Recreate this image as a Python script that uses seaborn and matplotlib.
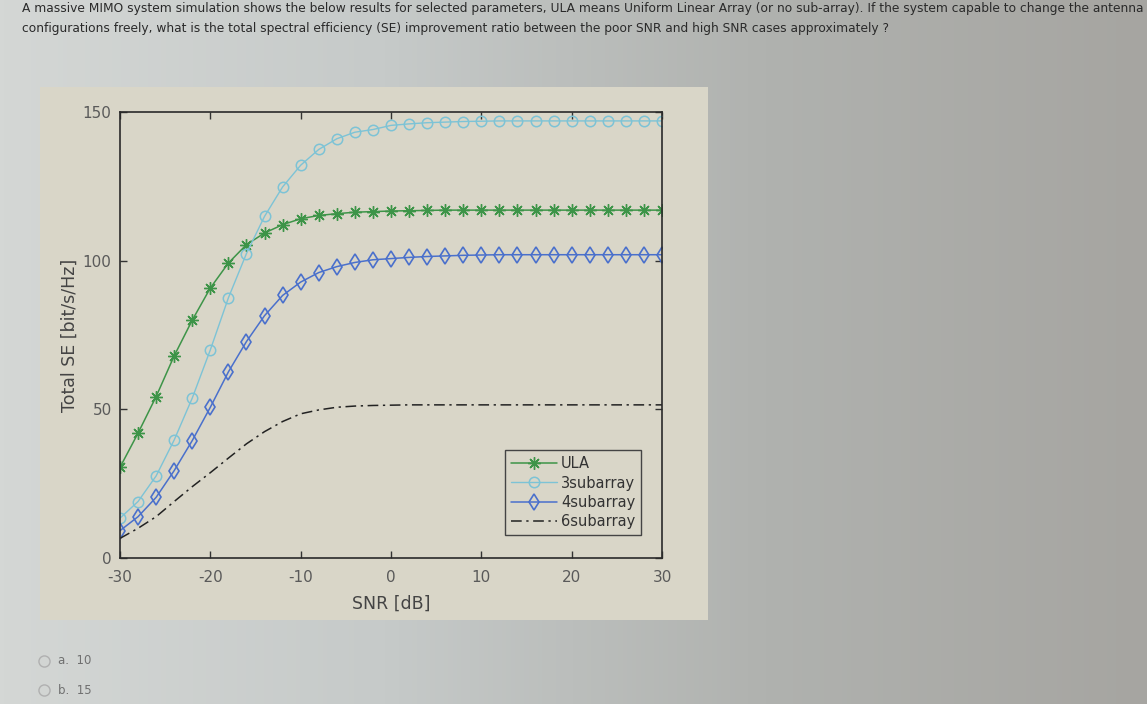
import numpy as np
import pandas as pd
import seaborn as sns
import matplotlib.pyplot as plt
from matplotlib.patches import Rectangle
from matplotlib.colors import LinearSegmentedColormap

sns.set_theme(style="ticks")
plt.rcParams['font.family'] = ['DejaVu Sans']
plt.rcParams['axes.unicode_minus'] = False

# SNR points, every 2 dB
snr = list(range(-30, 31, 2))

ula = [30.5, 42, 54.3, 68, 80, 90.8, 99.2, 105.4, 109.3, 112.1, 114.1, 115.2,
       115.8, 116.3, 116.5, 116.7, 116.8, 116.9, 117, 117, 117, 117, 117, 117,
       117, 117, 117, 117, 117, 117, 117]
sub3 = [13.4, 19, 27.6, 39.7, 53.8, 70, 87.5, 102.4, 114.9, 124.8, 132.1, 137.4,
        141, 143.2, 144.1, 145.5, 146, 146.4, 146.6, 146.8, 146.9, 147, 147, 147,
        147, 147, 147, 147, 147, 147, 147]
sub4 = [9.2, 13.9, 20.4, 29.4, 39.5, 50.7, 62.6, 72.8, 81.5, 88.3, 92.8, 96,
        98, 99.4, 100.3, 100.7, 101.1, 101.4, 101.6, 101.8, 101.9, 102, 102, 102,
        102, 102, 102, 102, 102, 102, 102]
sub6 = [6.6, 10, 13.9, 19, 24, 28.7, 33.6, 38.4, 42.5, 45.9, 48.5, 49.8,
        50.7, 51.1, 51.3, 51.4, 51.5, 51.5, 51.5, 51.5, 51.5, 51.5, 51.5, 51.5,
        51.5, 51.5, 51.5, 51.5, 51.5, 51.5, 51.5]

question = ("A massive MIMO system simulation shows the below results for selected parameters, "
            "ULA means Uniform Linear Array (or no sub-array). If the system capable to change the antenna\n"
            "configurations freely, what is the total spectral efficiency (SE) improvement ratio between "
            "the poor SNR and high SNR cases approximately ?")
options = ['a.  10', 'b.  15']

fig = plt.figure(figsize=(11.47, 7.04), dpi=100)

# photographed screen background
bg = fig.add_axes([0, 0, 1, 1], zorder=-2)
grad = np.linspace(0, 1, 256)[None, :]
cmap = LinearSegmentedColormap.from_list('scr', ['#d4d7d5', '#c6cac9', '#b0b2af', '#a6a5a1'])
bg.imshow(grad, aspect='auto', cmap=cmap, extent=[0, 1, 0, 1])
bg.add_patch(Rectangle((40 / 1147, 1 - 620 / 704), 668 / 1147, 533 / 704,
                       facecolor='#d9d6c8', edgecolor='none'))
bg.set_xlim(0, 1)
bg.set_ylim(0, 1)
bg.axis('off')

ax = fig.add_axes([120 / 1147, 1 - 558 / 704, 542 / 1147, 446 / 704])
ax.set_facecolor('#d9d6c8')

df = pd.DataFrame({'SNR': snr, 'ULA': ula, '3subarray': sub3,
                   '4subarray': sub4, '6subarray': sub6})

c_ula, c_3, c_4 = '#3d9448', '#7dc3d6', '#4a70cc'
sns.lineplot(data=df, x='SNR', y='ULA', ax=ax, color=c_ula, lw=1.1,
             marker=(8, 2, 0), markersize=9, markeredgewidth=1.0,
             markeredgecolor=c_ula, label='ULA')
sns.lineplot(data=df, x='SNR', y='3subarray', ax=ax, color=c_3, lw=1.0,
             marker='o', markersize=7.5, markerfacecolor='none', markeredgewidth=1.1,
             markeredgecolor=c_3, label='3subarray')
sns.lineplot(data=df, x='SNR', y='4subarray', ax=ax, color=c_4, lw=1.1,
             marker='d', markersize=8, markerfacecolor='none', markeredgewidth=1.2,
             markeredgecolor=c_4, label='4subarray')
sns.lineplot(data=df, x='SNR', y='6subarray', ax=ax, color='#222222', lw=1.1,
             linestyle=(0, (7, 3, 1.5, 3)), label='6subarray')

ax.set_xlim(-30, 30)
ax.set_ylim(0, 150)
ax.set_xticks([-30, -20, -10, 0, 10, 20, 30])
ax.set_yticks([0, 50, 100, 150])
ax.tick_params(direction='in', top=True, right=True, length=5, width=1,
               labelsize=11, labelcolor='#5a5a5a', color='#333333', pad=6)
ax.tick_params(axis='x', pad=9)
for s in ax.spines.values():
    s.set_color('#2a2a2a')
    s.set_linewidth(1.2)
ax.set_xlabel('SNR [dB]', fontsize=12.5, color='#444444', labelpad=7)
ax.set_ylabel('Total SE [bit/s/Hz]', fontsize=12.5, color='#444444', labelpad=3)

leg = ax.legend(loc='lower right', bbox_to_anchor=(0.975, 0.035), fontsize=10.5,
                frameon=True, fancybox=False, handlelength=3.2, borderpad=0.4,
                labelspacing=0.3, handletextpad=0.25)
leg.get_frame().set_facecolor('#d9d6c8')
leg.get_frame().set_edgecolor('#444444')
leg.get_frame().set_alpha(1)
for t in leg.get_texts():
    t.set_color('#333333')

fig.text(22 / 1147, 1 - 2 / 704, question, ha='left', va='top', fontsize=8.8,
         color='#2a2a2a', linespacing=1.7)

for i, opt in enumerate(options):
    yy = 1 - (661 + 29 * i) / 704
    bg.plot([44 / 1147], [yy], marker='o', markersize=8, markerfacecolor='none',
            markeredgecolor='#b0b0b0', markeredgewidth=1)
    fig.text(58 / 1147, yy, opt, ha='left', va='center', fontsize=8.5, color='#707070')

fig.savefig('out.png', dpi=100)
